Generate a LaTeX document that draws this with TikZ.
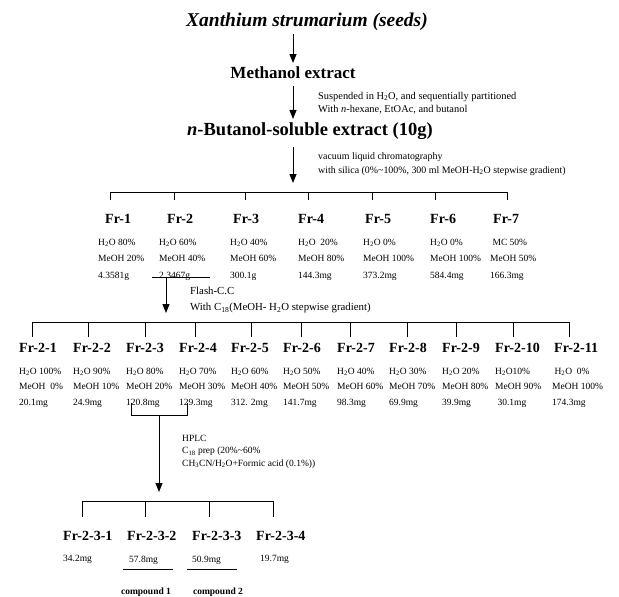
\documentclass[tikz,border=0pt]{standalone}
\usepackage{fontspec}
\setmainfont{Liberation Serif}
\usetikzlibrary{positioning,arrows.meta}
\newcommand{\water}{H\textsubscript{2}O}
\tikzset{head/.style={inner sep=3pt,anchor=base,font=\fontsize{17}{20}\selectfont\bfseries},
        frlabel/.style={anchor=base west,inner sep=0pt,font=\fontsize{14}{17}\selectfont\bfseries},
        frdata/.style={inner sep=0pt,align=left,font=\fontsize{9.5}{16.5}\selectfont},
        note/.style={anchor=north west,inner sep=0pt,align=left},
        arr/.style={-{Triangle[length=9pt,width=7pt]},line width=1pt},
        bar/.style={line width=1pt}}
\newcommand{\frnode}[5][]{%
  \node[frlabel] (#2) at (#3) {#4};
  \node[frdata,anchor=north west,#1] (#2data) at ([yshift=-15.5pt]#2.base west) {#5};}
\begin{document}
\begin{tikzpicture}[x=1pt,y=-1pt]
  \useasboundingbox (0,0) rectangle (619,597);
  %% extraction
  \node[head,font=\fontsize{19.5}{24}\selectfont\bfseries\itshape] (seeds)
       at (307,27) {Xanthium strumarium (seeds)};
  \node[head] (meoh) at (293,78) {Methanol extract};
  \node[head,font=\fontsize{18.5}{22}\selectfont\bfseries] (buoh)
       at (310,135) {\textit{n}-Butanol-soluble extract (10g)};
  \coordinate (vlc) at (293,183);
  \draw[arr] (seeds.south -| meoh) -- (meoh.north);
  \draw[arr,shorten <=5pt] (meoh.south) -- (meoh.south |- buoh.north);
  \draw[arr,shorten <=5pt] (buoh.south -| vlc) -- (vlc);
  \node[note,font=\fontsize{10.4}{13}\selectfont] (part) at (318,92)
       {Suspended in \water, and sequentially partitioned\\
        With \textit{n}-hexane, EtOAc, and butanol};
  \node[note,font=\fontsize{9.9}{14}\selectfont] (silica) at (318,152)
       {vacuum liquid chromatography\\
        with silica (0\%\textasciitilde100\%, 300 ml MeOH-\water{} stepwise gradient)};
  %% first fractions
  \draw[bar] (110,192) -- (507,192);
  \draw (110,192)--(110,200) (174,192)--(174,200) (245,192)--(245,200)
        (308,192)--(308,200) (372,192)--(372,200) (435,192)--(435,200)
        (507,192)--(507,200);
  \frnode[xshift=-7pt]{fr1}{105,223}{Fr-1}{\water{} 80\%\\MeOH 20\%\\4.3581g}
  \frnode[xshift=-8pt]{fr2}{167,223}{Fr-2}{\water{} 60\%\\MeOH 40\%\\2.3467g}
  \frnode[xshift=-3pt]{fr3}{233,223}{Fr-3}{\water{} 40\%\\ MeOH 60\%\\ 300.1g}
  \frnode{fr4}{298,223}{Fr-4}{\water{}\enspace20\%\\MeOH 80\%\\144.3mg}
  \frnode[xshift=-2pt]{fr5}{365,223}{Fr-5}{\water{} 0\%\\MeOH 100\%\\ 373.2mg}
  \frnode{fr6}{430,223}{Fr-6}{\water{} 0\%\\MeOH 100\%\\ 584.4mg}
  \frnode[xshift=-3pt]{fr7}{493,223}{Fr-7}{\ MC 50\%\\MeOH 50\%\\166.3mg}
  %% flash column of Fr-2
  \coordinate (flash) at (166,277);
  \coordinate (flashend) at (166,313);
  \draw (152,277) -- (210,277);
  \draw[arr] (flash) -- (flashend);
  \node[note,font=\fontsize{10.8}{16}\selectfont] (flashcc) at (190,287)
       {Flash-C.C\\With C\textsubscript{18}(MeOH- \water{} stepwise gradient)};
  \draw[bar] (32,322) -- (569,322);
  \draw (32,322)--(32,337) (88,322)--(88,337) (145,322)--(145,337)
        (195,322)--(195,337) (251,322)--(251,337) (301,322)--(301,337)
        (350,322)--(350,337) (407,322)--(407,337) (456,322)--(456,337)
        (513,322)--(513,337) (569,322)--(569,337);
  \frnode[font=\fontsize{9.5}{15.5}\selectfont]{fr21}{19,352}{Fr-2-1}{\water{} 100\%\\MeOH\enspace0\%\\20.1mg}
  \frnode[font=\fontsize{9.5}{15.5}\selectfont]{fr22}{73,352}{Fr-2-2}{\water{} 90\%\\MeOH 10\%\\24.9mg}
  \frnode[font=\fontsize{9.5}{15.5}\selectfont]{fr23}{126,352}{Fr-2-3}{\water{} 80\%\\MeOH 20\%\\120.8mg}
  \frnode[font=\fontsize{9.5}{15.5}\selectfont]{fr24}{179,352}{Fr-2-4}{\water{} 70\%\\MeOH 30\%\\129.3mg}
  \frnode[font=\fontsize{9.5}{15.5}\selectfont]{fr25}{231,352}{Fr-2-5}{\water{} 60\%\\MeOH 40\%\\312. 2mg}
  \frnode[font=\fontsize{9.5}{15.5}\selectfont]{fr26}{283,352}{Fr-2-6}{\water{} 50\%\\MeOH 50\%\\141.7mg}
  \frnode[font=\fontsize{9.5}{15.5}\selectfont]{fr27}{337,352}{Fr-2-7}{\water{} 40\%\\MeOH 60\%\\98.3mg}
  \frnode[font=\fontsize{9.5}{15.5}\selectfont]{fr28}{389,352}{Fr-2-8}{\water{} 30\%\\MeOH 70\%\\69.9mg}
  \frnode[font=\fontsize{9.5}{15.5}\selectfont]{fr29}{442,352}{Fr-2-9}{\water{} 20\%\\MeOH 80\%\\39.9mg}
  \frnode[font=\fontsize{9.5}{15.5}\selectfont]{fr210}{495,352}{Fr-2-10}{\water10\%\\ MeOH 90\%\\ \ 30.1mg}
  \frnode[font=\fontsize{9.5}{15.5}\selectfont,xshift=-2pt]{fr211}{554,352}{Fr-2-11}{\ \water{}\enspace0\%\\MeOH 100\%\\174.3mg}
  %% HPLC of Fr-2-3 and Fr-2-4
  \coordinate (hplc) at (159,415);
  \coordinate (hplcend) at (159,492);
  \draw (131,403) -- (131,415) -- (187,415) -- (187,403);
  \draw[arr] (hplc) -- (hplcend);
  \node[note,font=\fontsize{9.5}{12.5}\selectfont] (prep) at (182,435)
       {HPLC\\C\textsubscript{18} prep (20\%\textasciitilde60\%\\
        CH\textsubscript{3}CN/\water+Formic acid (0.1\%))};
  \draw[bar] (82,501) -- (273,501);
  \draw (82,501)--(82,517) (145,501)--(145,517) (209,501)--(209,517)
        (273,501)--(273,517);
  \frnode{fr231}{63,540}{Fr-2-3-1}{34.2mg}
  \frnode[xshift=2pt]{fr232}{127,540}{Fr-2-3-2}{57.8mg}
  \frnode{fr233}{192,540}{Fr-2-3-3}{50.9mg}
  \frnode[xshift=4pt]{fr234}{256,540}{Fr-2-3-4}{19.7mg}
  %% compounds
  \draw (123,569) -- (173,569) (187,569) -- (237,569);
  \node[anchor=base,inner sep=0pt,font=\fontsize{9.5}{12}\selectfont\bfseries]
       (cmp1) at (146,594) {compound 1};
  \node[anchor=base,inner sep=0pt,font=\fontsize{9.5}{12}\selectfont\bfseries]
       (cmp2) at (218,594) {compound 2};
\end{tikzpicture}
\end{document}
